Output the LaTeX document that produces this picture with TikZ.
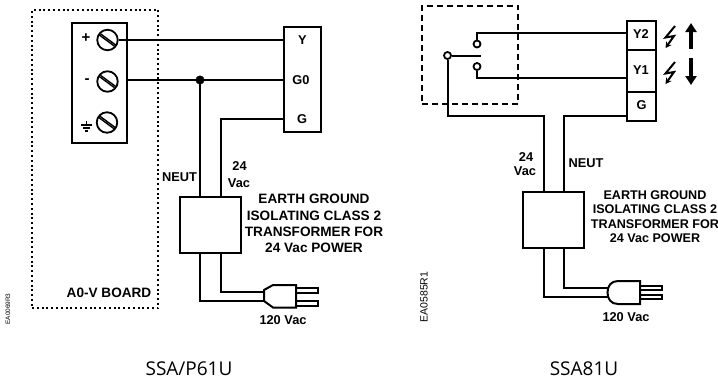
\documentclass[tikz,border=0pt]{standalone}
\usepackage{fontspec}
\setmainfont{Liberation Sans}
\newfontfamily\capfont{Open Sans}
\usetikzlibrary{arrows.meta,calc}
\tikzset{
  wire/.style={line width=2pt,line join=miter},
  boxx/.style={draw,line width=2pt,inner sep=0pt,fill=white},
  lab/.style={inner sep=0pt,font=\fontsize{12.8}{12.8}\selectfont\bfseries,align=center},
  labbig/.style={inner sep=0pt,font=\fontsize{13.6}{16.3}\selectfont\bfseries,align=center},
  labsm/.style={inner sep=0pt,font=\fontsize{12.6}{14.4}\selectfont\bfseries,align=center},
  captext/.style={inner sep=0pt,font=\fontsize{19}{19}\selectfont\capfont},
  screw/.style={draw,circle,line width=1.8pt,minimum size=20.5pt,inner sep=0pt,
    path picture={
      \draw[line width=1.4pt] ($(path picture bounding box.center)+(-9,-5.6)$) -- ($(path picture bounding box.center)+(7,6.2)$);
      \draw[line width=1.4pt] ($(path picture bounding box.center)+(-7,-6.2)$) -- ($(path picture bounding box.center)+(9,5.6)$);
    }},
  contact/.style={draw,circle,line width=1.8pt,minimum size=7pt,inner sep=0pt,fill=white},
  junction/.style={draw,circle,fill=black,minimum size=8.5pt,inner sep=0pt},
  plugbody/.style={draw,line width=2pt,fill=white,line join=miter},
  prong/.style={line width=2pt,fill=white},
  bigarrow/.style={line width=3.6pt,-{Triangle[length=9pt,width=11pt]}},
  bolt/.style={line width=2pt,-{Stealth[length=6pt,width=6.5pt]}},
}
\begin{document}
\begin{tikzpicture}[x=1pt,y=-1pt]
\useasboundingbox (0,0) rectangle (718,381);
% ---------- left panel
\node[draw,line width=2pt,dash pattern=on 2pt off 2.8pt,minimum width=126.5pt,minimum height=298pt,inner sep=0pt] (board) at (95.2,159) {};
\node[boxx,minimum width=55.5pt,minimum height=120pt] (tb) at (99.7,83) {};
\node[screw] (s1) at (107.5,40) {};
\node[screw] (s2) at (107.5,81.5) {};
\node[screw] (s3) at (107,122.5) {};
\node[boxx,minimum width=36.5pt,minimum height=105pt] (blkA) at (302.7,79.5) {};
\node[boxx,minimum width=60.5pt,minimum height=56pt] (trA) at (210.7,225) {};
\coordinate (pY) at (284.5,40);
\coordinate (pG0) at (284.5,80);
\coordinate (pG) at (284.5,119);
\coordinate (pM) at (127.5,80);
\node[junction] (jA) at (200,80) {};
\draw[wire] (s1.east) -- (pY);
\draw[wire] (pM) -- (jA) -- (pG0);
\draw[wire] (jA) -- (200,197);
\draw[wire] (pG) -- (220.5,119) -- (220.5,197);
\coordinate (plugA1) at (265,291.5);
\coordinate (plugA2) at (265,300.7);
\draw[wire] (220.5,253) -- (220.5,291.5) -- (plugA1);
\draw[wire] (200,253) -- (200,300.7) -- (plugA2);
\draw[prong] (296,288.3) rectangle (318,293.3);
\draw[prong] (296,300.7) rectangle (318,305.6);
\draw[plugbody] (264,290) -- (273,285) -- (296,285) -- (296,307.5) -- (273,307.5) -- (264,301) -- cycle;
\node[lab,font=\fontsize{15}{15}\selectfont\bfseries] (tplus) at (86,38) {+};
\node[lab,font=\fontsize{15}{15}\selectfont\bfseries] (tminus) at (87,81) {-};
\draw[line width=1.4pt] (86.5,121) -- (86.5,125) (81,125) -- (92,125) (83,128) -- (90,128) (85,131) -- (88,131);
\node[lab] (tY) at (302.5,40) {Y};
\node[lab] (tG0) at (301,80) {G0};
\node[lab] (tG) at (302,119) {G};
\node[lab] (t24A) at (239.5,166) {24};
\node[lab] (tVacA) at (239,183) {Vac};
\node[lab] (tNeutA) at (179.5,177) {NEUT};
\node[labbig] (tEarthA) at (314,223.5) {EARTH GROUND\\ISOLATING CLASS 2\\TRANSFORMER FOR\\24 Vac POWER};
\node[labbig] (tBoard) at (109,293) {A0-V BOARD};
\node[lab] (t120A) at (283,320) {120 Vac};
\node[inner sep=0pt,rotate=90,font=\fontsize{6.4}{6.4}\selectfont] (eaA) at (8,309) {EA0069R3};
\node[captext] (capA) at (189,369) {SSA/P61U};
% ---------- right panel
\node[draw,line width=2pt,dash pattern=on 6pt off 4pt,minimum width=96pt,minimum height=98.5pt,inner sep=0pt] (relay) at (470,55.2) {};
\node[boxx,minimum width=28.5pt,minimum height=100pt] (blkB) at (641.7,70.5) {};
\draw[line width=2pt] (627.5,49.5) -- (656,49.5) (627.5,91.5) -- (656,91.5);
\node[boxx,minimum width=60.5pt,minimum height=56pt] (trB) at (553.7,220) {};
\node[contact] (cc) at (447.5,55.5) {};
\node[contact] (cu) at (477,44) {};
\node[contact] (cl) at (477,66.5) {};
\coordinate (arm) at (481,55.5);
\coordinate (pY2) at (627.5,33);
\coordinate (pY1) at (627.5,77.5);
\coordinate (pGB) at (627.5,115.5);
\draw[wire] (cc) -- (arm);
\draw[wire] (cu) -- (477,33) -- (pY2);
\draw[wire] (cl) -- (477,77.5) -- (pY1);
\draw[wire] (cc) -- (447.5,115.5) -- (543.5,115.5) -- (543.5,192);
\draw[wire] (pGB) -- (564,115.5) -- (564,192);
\draw[wire] (543.5,248) -- (543.5,296.7) -- (609,296.7);
\draw[wire] (564,248) -- (564,288) -- (609,288);
\draw[prong] (640,286) rectangle (662,290.2);
\draw[prong] (640,295) rectangle (662,299.3);
\draw[plugbody] (640,281) -- (618,281) .. controls (611,281) and (607.5,286) .. (607.5,292.5) .. controls (607.5,299) and (611,304) .. (618,304) -- (640,304) -- cycle;
\node[lab] (tY2) at (641,34) {Y2};
\node[lab] (tY1) at (641,70) {Y1};
\node[lab] (tGB) at (641.5,105) {G};
\foreach \d in {0,36}{
  \draw[bolt] (675,26+\d) -- (665.5,37.5+\d) -- (674,36+\d) -- (665.5,48+\d);
}
\coordinate (au0) at (691,49);
\coordinate (au1) at (691,23);
\coordinate (ad0) at (691,58);
\coordinate (ad1) at (691,85);
\draw[bigarrow] (au0) -- (au1);
\draw[bigarrow] (ad0) -- (ad1);
\node[lab] (t24B) at (526,157) {24};
\node[lab] (tVacB) at (525,171) {Vac};
\node[lab] (tNeutB) at (586,163.5) {NEUT};
\node[labsm] (tEarthB) at (655,216.5) {EARTH GROUND\\ISOLATING CLASS 2\\TRANSFORMER FOR\\24 Vac POWER};
\node[lab] (t120B) at (626,317) {120 Vac};
\node[inner sep=0pt,rotate=90,font=\fontsize{10.5}{10.5}\selectfont] (eaB) at (424,297) {EA0585R1};
\node[captext] (capB) at (584,369) {SSA81U};
\end{tikzpicture}
\end{document}
